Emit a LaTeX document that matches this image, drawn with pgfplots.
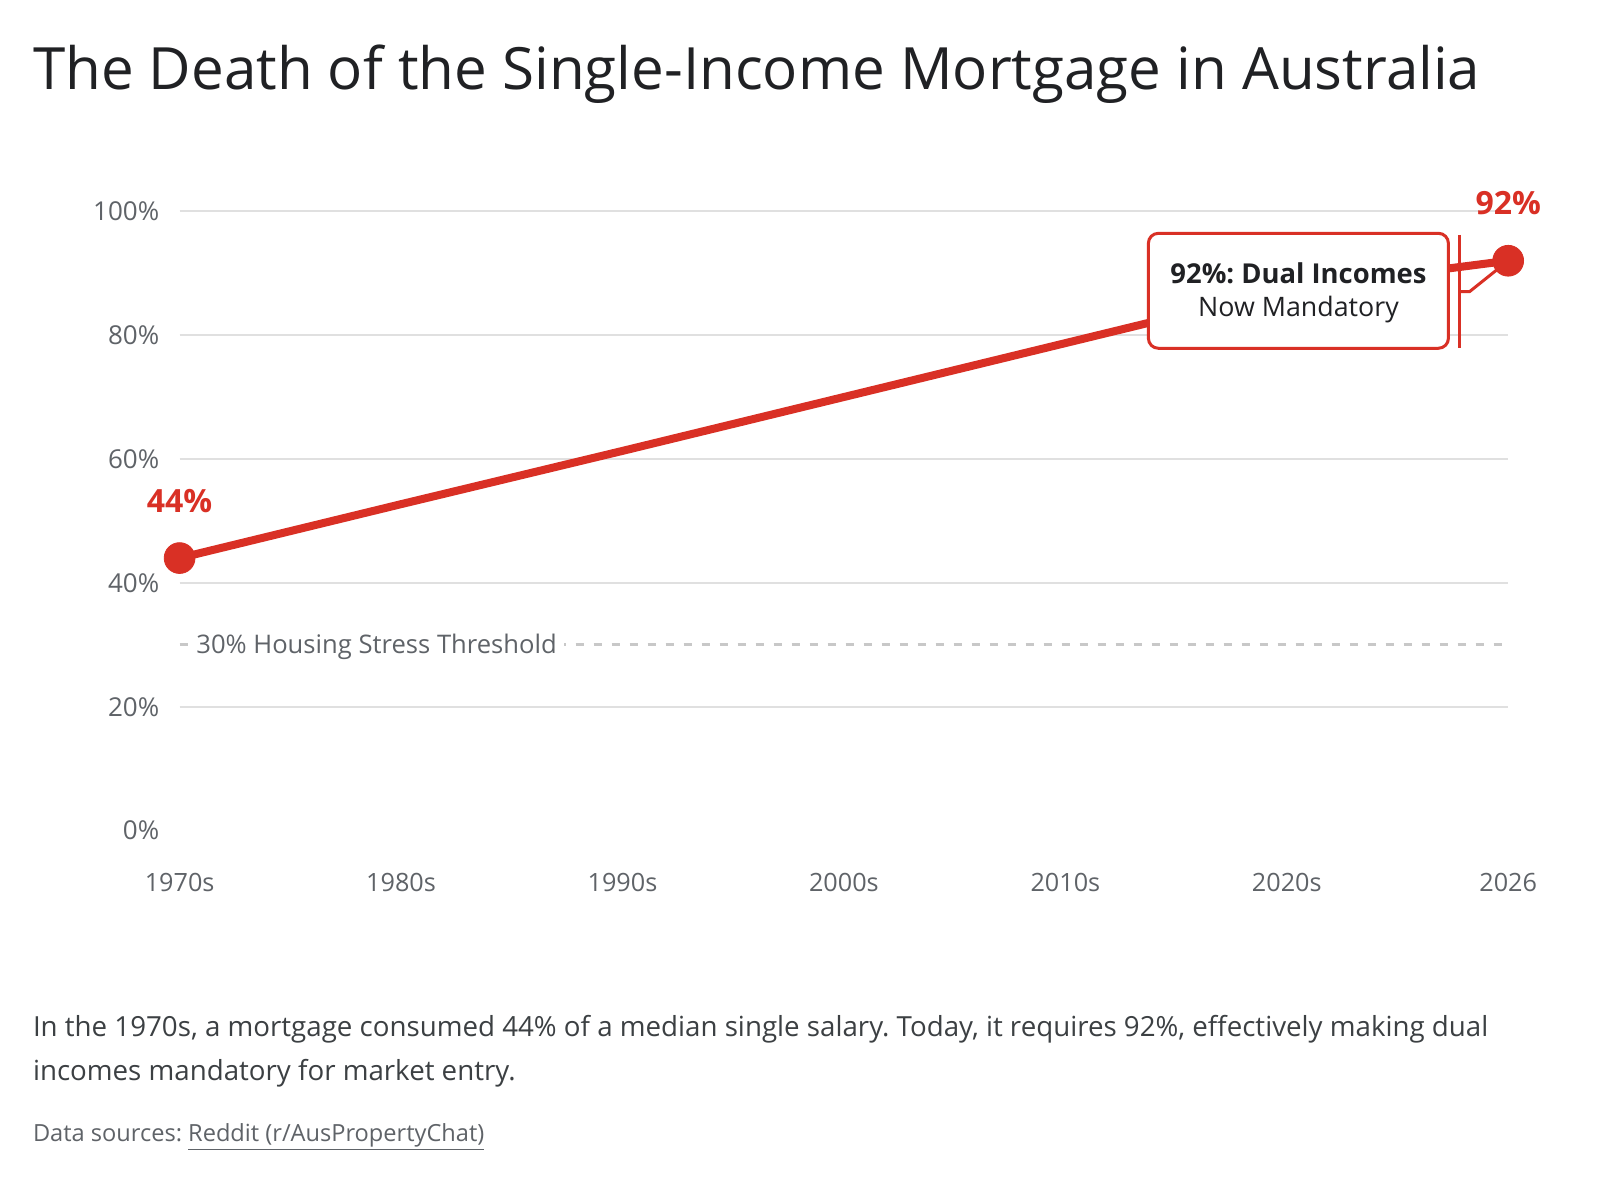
\documentclass[border=0pt]{standalone}
\usepackage{fontspec}
\setmainfont{Open Sans}
\usepackage{pgfplots}
\pgfplotsset{compat=1.18}
\definecolor{gred}{HTML}{D93025}
\definecolor{gtitle}{HTML}{202124}
\definecolor{gtick}{HTML}{5F6368}
\definecolor{ggrid}{HTML}{E0E0E0}
\definecolor{gdash}{HTML}{C8C8C8}
\definecolor{gcap}{HTML}{3C4043}
\frenchspacing
\begin{document}
\begin{tikzpicture}
\useasboundingbox (0,0) rectangle (800pt,600pt);
\fill[white] (0,0) rectangle (800pt,600pt);
\node[anchor=base west, inner sep=0pt, text=gtitle, font=\fontsize{29.15pt}{34pt}\selectfont] at (16.3pt,555pt) {The Death of the Single-Income Mortgage in Australia};
\begin{axis}[
  at={(89.8pt,184.7pt)}, anchor=south west,
  scale only axis, width=664.3pt, height=309.7pt,
  xmin=0, xmax=6, ymin=0, ymax=100,
  clip=false,
  axis line style={draw=none},
  tick style={draw=none},
  major tick length=0pt,
  xtick={0,1,2,3,4,5,6},
  xticklabels={1970s,1980s,1990s,2000s,2010s,2020s,2026},
  ytick={0,20,40,60,80,100},
  yticklabels={0\%,20\%,40\%,60\%,80\%,100\%},
  xticklabel style={font=\fontsize{12.6pt}{15pt}\selectfont, text=gtick, inner sep=0pt, anchor=north, yshift=-21pt},
  yticklabel style={font=\fontsize{13pt}{15pt}\selectfont, text=gtick, inner sep=0pt, anchor=east, xshift=-10pt},
]
\draw[ggrid, line width=0.8pt] (axis cs:0,20) -- (axis cs:6,20);
\draw[ggrid, line width=0.8pt] (axis cs:0,40) -- (axis cs:6,40);
\draw[ggrid, line width=0.8pt] (axis cs:0,60) -- (axis cs:6,60);
\draw[ggrid, line width=0.8pt] (axis cs:0,80) -- (axis cs:6,80);
\draw[ggrid, line width=0.8pt] (axis cs:0,100) -- (axis cs:6,100);
\draw[gdash, line width=1.6pt, dash pattern=on 4pt off 5pt] (axis cs:0,30) -- (axis cs:6,30);
\node[anchor=base west, fill=white, inner sep=3.5pt, text=gtick, font=\fontsize{12.8pt}{15pt}\selectfont, xshift=4.7pt, yshift=-4.6pt] at (axis cs:0,30) {30\% Housing Stress Threshold};
\addplot[gred, line width=4pt, line join=round, no marks] coordinates {
  (0,44) (1,52.7) (2,61.3) (3,70) (4,78.7) (5,87.4) (6,92)
};
\draw[gred, line width=1.5pt, fill=white, rounded corners=5pt] (axis cs:4.375,77.87) rectangle (axis cs:5.730,96.43);
\node[anchor=base, inner sep=0pt, text=gtitle, font=\bfseries\fontsize{13.7pt}{16pt}\selectfont] at (axis cs:5.053,88.36) {92\%: Dual Incomes};
\node[anchor=base, inner sep=0pt, text=gtitle, font=\fontsize{13.4pt}{16pt}\selectfont] at (axis cs:5.053,82.97) {Now Mandatory};
\draw[gred, line width=1.5pt] (axis cs:5.779,96.16) -- (axis cs:5.779,77.92);
\draw[gred, line width=1.5pt, line join=round] (axis cs:5.779,87.0) -- (axis cs:5.825,87.0) -- (axis cs:6,92);
\addplot[only marks, mark=*, mark size=7.7pt, mark options={fill=gred, draw=gred}] coordinates {(0,44) (6,92)};
\node[anchor=base, inner sep=0pt, text=gred, font=\bfseries\fontsize{16pt}{18pt}\selectfont, yshift=23pt] at (axis cs:0,44) {44\%};
\node[anchor=base, inner sep=0pt, text=gred, font=\bfseries\fontsize{16pt}{18pt}\selectfont, yshift=23pt] at (axis cs:6,92) {92\%};
\end{axis}
\node[anchor=base west, inner sep=0pt, text=gcap, font=\fontsize{13.85pt}{16pt}\selectfont] at (16.3pt,82pt) {In the 1970s, a mortgage consumed 44\% of a median single salary. Today, it requires 92\%, effectively making dual};
\node[anchor=base west, inner sep=0pt, text=gcap, font=\fontsize{13.85pt}{16pt}\selectfont] at (16.3pt,60pt) {incomes mandatory for market entry.};
\node[anchor=base west, inner sep=0pt, text=gtick, font=\fontsize{11.8pt}{14pt}\selectfont] at (16.3pt,29.5pt) {Data sources: \underline{Reddit (r/AusPropertyChat)}};
\end{tikzpicture}
\end{document}
